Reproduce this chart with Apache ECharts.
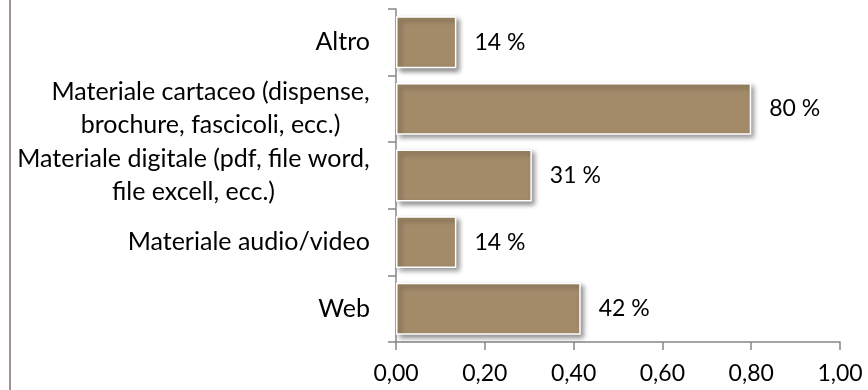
<!DOCTYPE html>
<html>
<head>
<meta charset="utf-8">
<script src="https://cdn.jsdelivr.net/npm/echarts@6/dist/echarts.min.js"></script>
<style>
    html, body { margin: 0; padding: 0; background: #fff; }
    #chart-bar-01 { width: 868px; height: 390px; }
</style>
</head>
<body>
<div id="chart-bar-01"></div>
<script>
// categorie (dal basso verso l'alto) e valori
var categorie = ['Web', 'Materiale audio/video', 'Materiale digitale (pdf, file word,\nfile excell, ecc.)', 'Materiale cartaceo (dispense,\nbrochure, fascicoli, ecc.)', 'Altro'];
var valori = [0.416, 0.136, 0.306, 0.80, 0.136];
var tickX = [0, 0.2, 0.4, 0.6, 0.8, 1.0];

var fontName = 'Lato';
var catFontSize = 25;

// larghezza della riga più lunga, per centrare le etichette su due righe
function misuraTesto(testo) {
    var ctx = document.createElement('canvas').getContext('2d');
    ctx.font = catFontSize + 'px ' + fontName;
    var w = 0;
    testo.split('\n').forEach(function (r) {
        w = Math.max(w, ctx.measureText(r).width);
    });
    return Math.ceil(w);
}

// grafico a barre orizzontali
function getChartsBarOne(xObj, yObj) {
    var chartbar1 = echarts.init(document.getElementById('chart-bar-01'));

    var rich = {};
    yObj.forEach(function (c, i) {
        rich['c' + i] = {
            width: misuraTesto(c),
            align: 'center',
            fontSize: catFontSize,
            fontFamily: fontName,
            lineHeight: 33,
            color: '#000'
        };
    });

    var option = {
        animation: false,
        textStyle: { fontFamily: fontName },
        grid: {
            left: 396,
            right: 28,
            top: 9,
            bottom: 48
        },
        // bordo sinistro dell'area grafico
        graphic: [{
            type: 'line',
            shape: { x1: 10, y1: 0, x2: 10, y2: 390 },
            style: { stroke: '#a09292', lineWidth: 2 }
        }],
        xAxis: {
            type: 'value',
            min: tickX[0],
            max: tickX[tickX.length - 1],
            interval: 0.2,
            splitLine: { show: false },
            axisLine: { show: true, lineStyle: { color: '#878787', width: 1.5 } },
            axisTick: { show: true, length: 8, lineStyle: { color: '#878787', width: 1.5 } },
            axisLabel: {
                color: '#000',
                fontSize: 23,
                margin: 20,
                formatter: function (v) {
                    return v.toFixed(2).replace('.', ',');
                }
            }
        },
        yAxis: {
            type: 'category',
            data: yObj,
            axisLine: { show: true, lineStyle: { color: '#878787', width: 1.5 } },
            axisTick: { show: true, length: 8, lineStyle: { color: '#878787', width: 1.5 } },
            axisLabel: {
                color: '#000',
                fontSize: catFontSize,
                lineHeight: 33,
                margin: 26,
                align: 'right',
                rich: rich,
                formatter: function (v, i) {
                    var righe = v.split('\n');
                    if (righe.length < 2) return v;
                    return righe.map(function (r) {
                        return '{c' + i + '|' + r + '}';
                    }).join('\n');
                }
            }
        },
        series: [{
            type: 'bar',
            data: xObj,
            barCategoryGap: '22%',
            itemStyle: {
                color: '#a38b6a',
                borderColor: '#ffffff',
                borderWidth: 1.5,
                shadowColor: 'rgba(0,0,0,0.45)',
                shadowBlur: 5,
                shadowOffsetX: 3,
                shadowOffsetY: 3
            },
            label: {
                show: true,
                position: 'right',
                distance: 18,
                color: '#000',
                fontSize: 23,
                formatter: function (p) {
                    return Math.round(p.value * 100) + ' %';
                }
            }
        }]
    };

    chartbar1.setOption(option);
}

getChartsBarOne(valori, categorie);
</script>
</body>
</html>
